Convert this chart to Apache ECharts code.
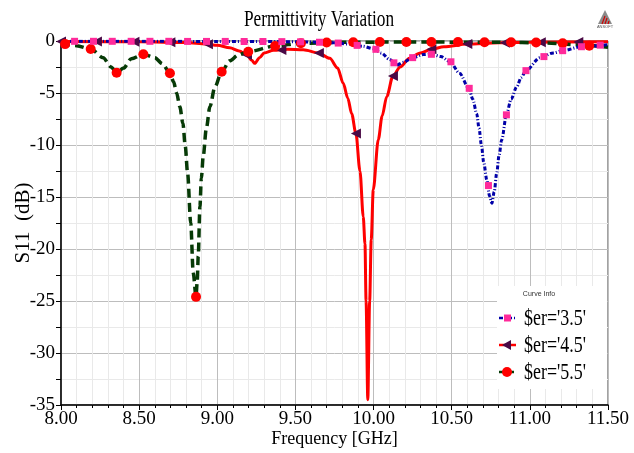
<!DOCTYPE html>
<html><head><meta charset="utf-8">
<script src="https://cdn.jsdelivr.net/npm/echarts@6/dist/echarts.min.js"></script>
<style>html,body{margin:0;padding:0;background:#fff}#c{width:634px;height:453px}</style>
</head><body><div id="c"></div>
<script>
// ---- data (frequency GHz, S11 dB) ----
const titleText = 'Permittivity Variation';
const xAxisName = 'Frequency [GHz]';
const yAxisName = 'S11  (dB)';
const xTickLabels = ['8.00','8.50','9.00','9.50','10.00','10.50','11.00','11.50'];
const yTickLabels = ['-35','-30','-25','-20','-15','-10','-5','0'];
const seriesNames = ["$er='3.5'", "$er='4.5'", "$er='5.5'"];

const er35Curve = [[8.0,-0.03],[8.5,-0.03],[9.0,-0.04],[9.4,-0.06],[9.6,-0.1],[9.75,-0.18],[9.85,-0.3],[9.93,-0.5],[10.0,-0.75],[10.05,-1.15],[10.1,-1.75],[10.15,-2.3],[10.19,-2.05],[10.25,-1.6],[10.32,-1.3],[10.37,-1.25],[10.43,-1.5],[10.49,-2.0],[10.55,-3.1],[10.61,-4.55],[10.635,-5.6],[10.66,-7.0],[10.675,-8.4],[10.69,-10.0],[10.705,-11.7],[10.725,-13.4],[10.742,-14.9],[10.757,-15.6],[10.772,-14.5],[10.788,-12.7],[10.803,-11.0],[10.82,-9.5],[10.85,-7.1],[10.88,-5.6],[10.916,-4.4],[10.945,-3.5],[10.975,-2.85],[11.065,-1.6],[11.15,-1.15],[11.21,-0.93],[11.33,-0.55],[11.5,-0.35]];
const er35Marks = [[8.087,-0.03],[8.208,-0.03],[8.328,-0.03],[8.449,-0.03],[8.569,-0.03],[8.69,-0.03],[8.81,-0.04],[8.931,-0.04],[9.051,-0.04],[9.172,-0.05],[9.292,-0.05],[9.413,-0.06],[9.533,-0.08],[9.654,-0.12],[9.774,-0.2],[9.895,-0.42],[10.015,-0.8],[10.13,-2.1],[10.25,-1.6],[10.37,-1.28],[10.495,-2.0],[10.612,-4.55],[10.735,-13.9],[10.85,-7.1],[10.975,-2.85],[11.09,-1.5],[11.21,-0.93],[11.33,-0.55],[11.45,-0.4]];

const er45Curve = [[8.0,-0.05],[8.5,-0.08],[8.8,-0.15],[8.93,-0.3],[9.0,-0.4],[9.08,-0.65],[9.14,-0.95],[9.19,-1.35],[9.22,-1.85],[9.24,-2.15],[9.27,-1.6],[9.3,-1.15],[9.36,-0.9],[9.45,-0.8],[9.55,-0.85],[9.65,-1.15],[9.72,-1.67],[9.77,-2.6],[9.806,-4.07],[9.835,-5.5],[9.86,-7.0],[9.887,-8.9],[9.913,-12.5],[9.934,-16.9],[9.945,-19.5],[9.952,-25],[9.963,-34.5],[9.975,-25],[9.985,-19.1],[9.998,-14.3],[10.03,-9.5],[10.055,-7.2],[10.084,-5.35],[10.124,-3.37],[10.17,-2.5],[10.23,-1.65],[10.3,-1.15],[10.37,-0.8],[10.45,-0.55],[10.6,-0.3],[10.8,-0.18],[11.0,-0.12],[11.5,-0.08]];
const er45Marks = [[8.0,-0.05],[8.23,-0.06],[8.47,-0.08],[8.70,-0.13],[8.94,-0.32],[9.19,-1.35],[9.41,-0.87],[9.65,-1.15],[9.887,-8.9],[10.124,-3.37],[10.37,-0.8],[10.60,-0.3],[10.84,-0.17],[11.07,-0.12],[11.31,-0.1]];

const er55Curve = [[8.0,-0.25],[8.1,-0.45],[8.19,-0.77],[8.27,-1.6],[8.32,-2.5],[8.356,-3.05],[8.4,-2.6],[8.45,-1.7],[8.527,-1.28],[8.6,-1.6],[8.65,-2.2],[8.697,-3.1],[8.72,-3.9],[8.74,-5.0],[8.76,-6.3],[8.78,-7.9],[8.795,-10.1],[8.81,-12.7],[8.83,-17.5],[8.846,-22.3],[8.864,-24.6],[8.872,-23.0],[8.878,-20.7],[8.889,-15.9],[8.898,-13.2],[8.91,-11.1],[8.93,-8.4],[8.953,-6.3],[8.985,-4.4],[9.028,-2.95],[9.08,-1.9],[9.134,-1.35],[9.198,-1.03],[9.37,-0.48],[9.535,-0.22],[9.8,-0.12],[10.2,-0.1],[10.8,-0.12],[11.1,-0.18],[11.3,-0.35],[11.5,-0.6]];
const er55Marks = [[8.026,-0.3],[8.19,-0.77],[8.356,-3.05],[8.527,-1.28],[8.697,-3.1],[8.864,-24.6],[9.028,-2.95],[9.198,-1.03],[9.37,-0.48],[9.535,-0.22],[9.70,-0.15],[9.87,-0.12],[10.04,-0.1],[10.21,-0.1],[10.37,-0.1],[10.54,-0.1],[10.71,-0.12],[10.88,-0.12],[11.04,-0.15],[11.21,-0.22],[11.38,-0.45]];

// ---- styles ----
const C35 = '#0000a8', C35m = '#ff2a9a';
const C45 = '#ff0000', C45m = '#4a0a46';
const C55 = '#063a06', C55m = '#ff0000';
const SERIF = '"Liberation Serif","Times New Roman",serif';

const chart = echarts.init(document.getElementById('c'), null, {renderer:'canvas'});

function lineSeries(name, data, color, width, type, z){
  return {name, type:'line', data, showSymbol:false, symbol:'none', smooth:0.3, smoothMonotone:'x',
    lineStyle:{color, width, type}, z, silent:true, animation:false, clip:true};
}
function markSeries(name, data, color, symbol, size, rotate, z){
  return {name, type:'scatter', data, symbol, symbolSize:size, symbolRotate:rotate||0,
    itemStyle:{color, opacity:1}, z, silent:true, animation:false};
}

const LZ = 100;
const legendRows = [
  {y:318, line:C35, lineType:[4,2,1,2], mark:'rect', mcol:C35m, text:seriesNames[0]},
  {y:345, line:C45, lineType:'solid', mark:'tri', mcol:C45m, text:seriesNames[1]},
  {y:372, line:C55, lineType:[6,3], mark:'circle', mcol:C55m, text:seriesNames[2]}
];
const legendChildren = [
  {type:'rect', z:LZ, shape:{x:497,y:286,width:110,height:103}, style:{fill:'#ffffff', stroke:null}},
  {type:'text', z:LZ+1, x:539, y:294, style:{text:'Curve Info', font:'7px "Liberation Sans",sans-serif', fill:'#333', align:'center', verticalAlign:'middle'}}
];
legendRows.forEach(r=>{
  legendChildren.push({type:'line', z:LZ+1, shape:{x1:499,y1:r.y,x2:516,y2:r.y}, style:{stroke:r.line, lineWidth:2.5, lineDash:Array.isArray(r.lineType)?r.lineType:null}});
  if (r.mark==='rect') legendChildren.push({type:'rect', z:LZ+2, shape:{x:504,y:r.y-3.5,width:7,height:7}, style:{fill:r.mcol}});
  if (r.mark==='tri') legendChildren.push({type:'polygon', z:LZ+2, shape:{points:[[502,r.y],[511,r.y-5],[511,r.y+5]]}, style:{fill:r.mcol}});
  if (r.mark==='circle') legendChildren.push({type:'circle', z:LZ+2, shape:{cx:507,cy:r.y,r:5}, style:{fill:r.mcol}});
  legendChildren.push({type:'text', z:LZ+2, x:524, y:r.y+1, scaleX:0.78, style:{text:r.text, font:'23px '+SERIF, fill:'#000', verticalAlign:'middle'}});
});

const option = {
  backgroundColor:'#ffffff',
  animation:false,
  grid:{left:61, right:26, top:41, bottom:48, show:true, borderColor:'#444', borderWidth:1, backgroundColor:'transparent', containLabel:false, outerBoundsMode:'none'},
  xAxis:{type:'value', min:8, max:11.5, interval:0.5,
    name:xAxisName, nameLocation:'middle', nameGap:25, nameMoveOverlap:false,
    nameTextStyle:{fontFamily:SERIF, fontSize:18, color:'#000'},
    axisLine:{show:true, onZero:false, lineStyle:{color:'#000', width:1.5}},
    axisTick:{show:true, length:5, lineStyle:{color:'#000'}},
    minorTick:{show:true, splitNumber:5, length:3, lineStyle:{color:'#000'}},
    axisLabel:{fontFamily:SERIF, fontSize:19, color:'#000', margin:5,
      formatter:v=>xTickLabels[Math.round((v-8)/0.5)]},
    splitLine:{show:true, lineStyle:{color:'#bdbdbd', width:1}},
    minorSplitLine:{show:true, lineStyle:{color:'#e9e9e9', width:1}}
  },
  yAxis:{type:'value', min:-35, max:0, interval:5,
    name:yAxisName, nameLocation:'middle', nameGap:27, nameRotate:90, nameMoveOverlap:false,
    nameTextStyle:{fontFamily:SERIF, fontSize:21, color:'#000'},
    axisLine:{show:true, onZero:false, lineStyle:{color:'#000', width:1.5}},
    axisTick:{show:true, length:5, lineStyle:{color:'#000'}},
    minorTick:{show:true, splitNumber:2, length:5, lineStyle:{color:'#000'}},
    axisLabel:{fontFamily:SERIF, fontSize:19, color:'#000', margin:6,
      formatter:v=>yTickLabels[Math.round((v+35)/5)]},
    splitLine:{show:true, lineStyle:{color:'#bdbdbd', width:1}},
    minorSplitLine:{show:true, lineStyle:{color:'#e9e9e9', width:1}}
  },
  series:[
    lineSeries(seriesNames[1], er45Curve, C45, 3, 'solid', 3),
    lineSeries(seriesNames[2], er55Curve, C55, 3.5, [9,5], 4),
    lineSeries(seriesNames[0], er35Curve, C35, 3, [4,2,1,2], 5),
    markSeries(seriesNames[1]+'m', er45Marks, C45m, 'triangle', 10, 90, 6),
    markSeries(seriesNames[2]+'m', er55Marks, C55m, 'circle', 10, 0, 7),
    markSeries(seriesNames[0]+'m', er35Marks, C35m, 'rect', 7, 0, 8)
  ],
  graphic:[
    {type:'text', x:319, y:20, scaleX:0.72, z:20, style:{text:titleText, font:'24px '+SERIF, fill:'#000', align:'center', verticalAlign:'middle'}},
    {type:'group', z:20, children:[
      {type:'polygon', z:20, shape:{points:[[605,10],[598,24],[612,24]]}, style:{fill:'#8a8a8a'}},
      {type:'line', z:21, shape:{x1:602,y1:24,x2:605,y2:16}, style:{stroke:'#d00000', lineWidth:1.2}},
      {type:'line', z:21, shape:{x1:605,y1:24,x2:607,y2:18}, style:{stroke:'#d00000', lineWidth:1.2}},
      {type:'line', z:21, shape:{x1:608,y1:24,x2:609,y2:21}, style:{stroke:'#d00000', lineWidth:1.2}},
      {type:'text', z:21, x:605, y:27, style:{text:'ANSOFT', font:'4px sans-serif', fill:'#555', align:'center', verticalAlign:'middle'}}
    ]},
    {type:'group', z:LZ, children:legendChildren}
  ]
};
chart.setOption(option);
</script></body></html>
